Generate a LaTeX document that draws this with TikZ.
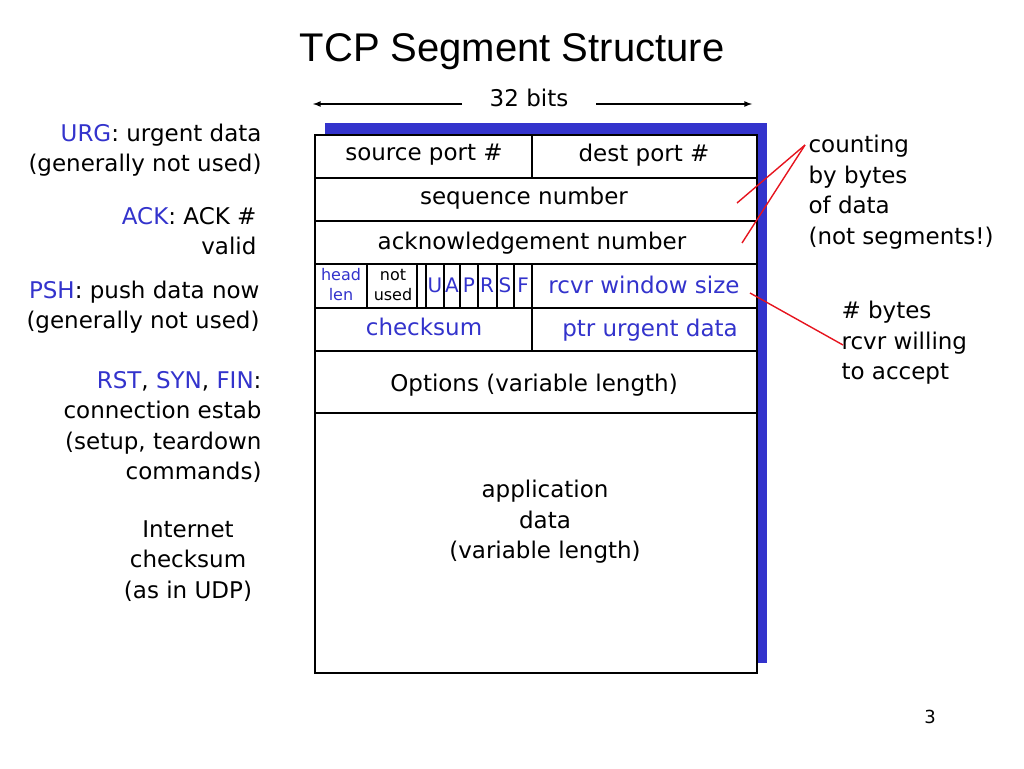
\documentclass[tikz,border=0pt]{standalone}
\usepackage{fontspec}
\setmainfont{DejaVu Sans}
\newfontfamily\titlefont{Liberation Sans}
\definecolor{FieldBlue}{RGB}{51, 51, 204}
\definecolor{NoteRed}{RGB}{230, 20, 30}
\newcommand{\fs}{\fontsize{23}{30.5}\selectfont}

\begin{document}
\begin{tikzpicture}[x=1pt, y=-1pt,
  field/.style={draw, line width=1.6pt, fill=white},
  note/.style={font=\fs, align=right, anchor=east},
  blu/.style={text=FieldBlue},
  pointer/.style={draw=NoteRed, line width=1.4pt}]
  \useasboundingbox (0,0) rectangle (1024,768);
  % title and width
  \node[font=\titlefont\fontsize{40}{44}\selectfont] (title) at (512,52) {TCP Segment Structure};
  \node[font=\fs] (bits) at (529,98) {32 bits};
  \coordinate (bl) at (313,104);
  \coordinate (br) at (752,104);
  \draw[-latex, line width=1.6pt] (462,104) -- (bl);
  \draw[-latex, line width=1.6pt] (596,104) -- (br);
  % shadow and header rows
  \fill[FieldBlue] (325,123) rectangle (767,663);
  \draw[field] (315,135) rectangle (757,673);
  \foreach \y in {178,221,264,308,351,413}
    \draw[line width=1.6pt] (315,\y) -- (757,\y);
  \draw[line width=1.6pt] (532,135) -- (532,178);
  \draw[line width=1.6pt] (532,308) -- (532,351);
  \foreach \x in {367,417,426,444,460,478,497,514,532}
    \draw[line width=1.2pt] (\x,264) -- (\x,308);
  \node[font=\fs] (src) at (424,155) {source port \#};
  \node[font=\fs] (dst) at (644,155) {dest port \#};
  \node[font=\fs] (seq) at (524,198) {sequence number};
  \node[font=\fs] (ack) at (532,243) {acknowledgement number};
  \node[font=\fontsize{16}{20}\selectfont, blu, align=center] (hlen) at (341,285) {head\\len};
  \node[font=\fontsize{16}{20}\selectfont, align=center] (nu) at (393,285) {not\\used};
  \foreach \l/\x in {U/435,A/452,P/469,R/487,S/505,F/523}
    \node[font=\fontsize{20}{24}\selectfont, blu] (flag\l) at (\x,285) {\l};
  \node[font=\fs, blu] (win) at (644,285) {rcvr window size};
  \node[font=\fs, blu] (csum) at (424,327) {checksum};
  \node[font=\fs, blu] (urg) at (650,330) {ptr urgent data};
  \node[font=\fs] (opt) at (534,385) {Options (variable length)};
  \node[font=\fs, align=center] (app) at (545,522) {application\\data\\(variable length)};
  % left notes
  \node[note] (nurg) at (265,150) {\textcolor{FieldBlue}{URG}: urgent data\\(generally not used)};
  \node[note] (nack) at (260,231) {\textcolor{FieldBlue}{ACK}: ACK \#\\valid};
  \node[note] (npsh) at (263,307) {\textcolor{FieldBlue}{PSH}: push data now\\(generally not used)};
  \node[note] (nrst) at (265,427) {\textcolor{FieldBlue}{RST}, \textcolor{FieldBlue}{SYN}, \textcolor{FieldBlue}{FIN}:\\connection estab\\(setup, teardown\\commands)};
  \node[font=\fs, align=center] (ncs) at (188,561) {Internet\\checksum\\(as in UDP)};
  % right notes
  \node[font=\fs, align=left, anchor=west] (ncount) at (805,192) {counting\\by bytes\\of data\\(not segments!)};
  \node[font=\fs, align=left, anchor=west] (nwin) at (838,343) {\# bytes\\rcvr willing\\to accept};
  \coordinate (tip) at (805,145);
  \draw[pointer] (tip) -- (737,203);
  \draw[pointer] (tip) -- (742,243);
  \draw[pointer] (750,293) -- (843,345);
  \node[font=\fontsize{18}{20}\selectfont] (page) at (930,717) {3};
\end{tikzpicture}
\end{document}
